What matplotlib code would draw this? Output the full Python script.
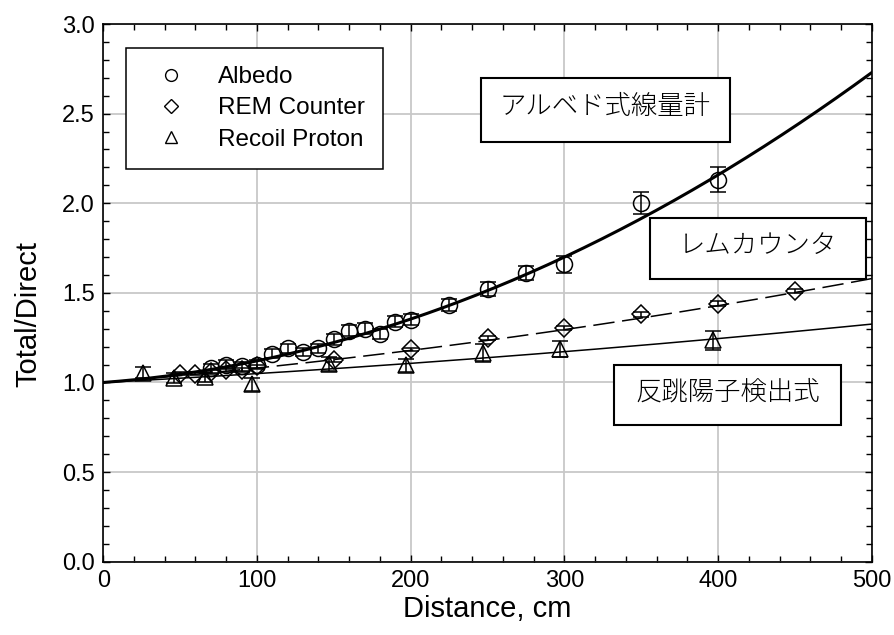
import matplotlib
matplotlib.use("Agg")
import matplotlib.pyplot as plt
import numpy as np
from matplotlib.ticker import MultipleLocator

plt.rcParams['font.family'] = ['Liberation Sans', 'DejaVu Sans']

# ---- data ----
albedo_x = [70, 80, 90, 100, 110, 120, 130, 140, 150, 160, 170, 180, 190, 200,
            225, 250, 275, 300, 350, 400]
albedo_y = [1.08, 1.10, 1.09, 1.10, 1.16, 1.19, 1.17, 1.19, 1.24, 1.29, 1.30, 1.27, 1.34, 1.35,
            1.43, 1.52, 1.61, 1.66, 2.00, 2.13]
albedo_err = [0.025, 0.025, 0.025, 0.025, 0.025, 0.025, 0.025, 0.025, 0.03, 0.03, 0.03, 0.03, 0.03, 0.03,
              0.033, 0.04, 0.04, 0.047, 0.06, 0.07]

rem_x = [50, 60, 70, 80, 90, 100, 150, 200, 250, 300, 350, 400, 450]
rem_y = [1.05, 1.05, 1.06, 1.07, 1.07, 1.09, 1.125, 1.185, 1.25, 1.305, 1.38, 1.44, 1.51]
rem_err = [0.01, 0.01, 0.01, 0.01, 0.01, 0.01, 0.01, 0.01, 0.012, 0.012, 0.012, 0.012, 0.012]

recoil_x = [26, 46, 66, 97, 147, 197, 247, 297, 397]
recoil_y = [1.055, 1.025, 1.03, 0.99, 1.105, 1.095, 1.165, 1.185, 1.235]
recoil_err = [0.03, 0.03, 0.03, 0.035, 0.039, 0.037, 0.05, 0.044, 0.053]

# fitted quadratic curves: y = c0 + c1*x + c2*x^2
albedo_fit = [1.0, 6.43e-4, 5.63e-6]
rem_fit = [1.0, 7.18e-4, 8.83e-7]
recoil_fit = [1.0, 4.55e-4, 3.93e-7]

legend_labels = ["Albedo", "REM Counter", "Recoil Proton"]
box_labels = ["アルベド式線量計", "レムカウンタ", "反跳陽子検出式"]

# ---- figure ----
fig = plt.figure(figsize=(8.95, 6.35), dpi=100)
ax = fig.add_axes([0.1154, 0.1154, 0.8586, 0.8468])

xx = np.linspace(0, 500, 300)
def poly(c, x):
    return c[0] + c[1] * x + c[2] * x ** 2

ax.plot(xx, poly(albedo_fit, xx), color='black', lw=2.2, zorder=3)
ax.plot(xx, poly(rem_fit, xx), color='black', lw=1.1, dashes=(14, 5), zorder=3)
ax.plot(xx, poly(recoil_fit, xx), color='black', lw=1.1, zorder=3)

mk = dict(mfc='none', mec='black', mew=1.1, ecolor='black', elinewidth=1.1,
          capsize=6, capthick=1.1, ls='none', zorder=4)
ax.errorbar(albedo_x, albedo_y, yerr=albedo_err, fmt='o', ms=11.5, **mk)
ax.errorbar(rem_x, rem_y, yerr=rem_err, fmt='D', ms=9, **mk)
ax.errorbar(recoil_x, recoil_y, yerr=recoil_err, fmt='^', ms=11.5, **mk)

# legend proxies
h1, = ax.plot([], [], 'o', mfc='none', mec='black', mew=1.0, ms=8.5)
h2, = ax.plot([], [], 'D', mfc='none', mec='black', mew=1.0, ms=7.5)
h3, = ax.plot([], [], '^', mfc='none', mec='black', mew=1.0, ms=8.5)
leg = ax.legend([h1, h2, h3], legend_labels, loc='upper left',
                bbox_to_anchor=(0.0295, 0.9554), fontsize=17.5, frameon=True,
                fancybox=False, edgecolor='black', framealpha=1,
                borderpad=0.75, labelspacing=0.38, handletextpad=0.85,
                handlelength=2.2, borderaxespad=0)
leg.get_frame().set_linewidth(1.1)
leg.set_zorder(6)

ax.set_xlim(0, 500)
ax.set_ylim(0, 3.0)
ax.xaxis.set_major_locator(MultipleLocator(100))
ax.xaxis.set_minor_locator(MultipleLocator(20))
ax.yaxis.set_major_locator(MultipleLocator(0.5))
ax.yaxis.set_minor_locator(MultipleLocator(0.1))
ax.yaxis.set_major_formatter(matplotlib.ticker.FormatStrFormatter('%.1f'))
ax.tick_params(which='both', direction='in', top=True, right=True, labelsize=17,
               width=1.0, colors='black')
ax.tick_params(which='major', length=5, pad=6)
ax.tick_params(which='minor', length=4)
ax.grid(True, which='major', color='#c8c8c8', lw=1.3, zorder=0)
ax.set_axisbelow(True)
for s in ax.spines.values():
    s.set_linewidth(1.2)

ax.set_xlabel("Distance, cm", fontsize=21)
ax.set_ylabel("Total/Direct", fontsize=21)
ax.xaxis.set_label_coords(0.5, -0.088)
ax.yaxis.set_label_coords(-0.098, 0.46)
ax.xaxis.label.set_va('center')
ax.yaxis.label.set_va('center')

# annotation boxes
boxes = [(245.5, 2.34, 2.70), (356, 1.575, 1.92), (332, 0.76, 1.10)]
box_right = [408, 496, 480]
for (x0, y0, y1), x1, txt in zip(boxes, box_right, box_labels):
    ax.add_patch(plt.Rectangle((x0, y0), x1 - x0, y1 - y0, fill=True, fc='white',
                               ec='black', lw=1.5, zorder=5, clip_on=False))
    ax.text((x0 + x1) / 2, (y0 + y1) / 2 + 0.02, txt, ha='center', va='center',
            fontsize=19, family=['Noto Sans CJK JP', 'DejaVu Sans'],
            fontweight='light', zorder=6)

fig.savefig("out.png", dpi=100)
